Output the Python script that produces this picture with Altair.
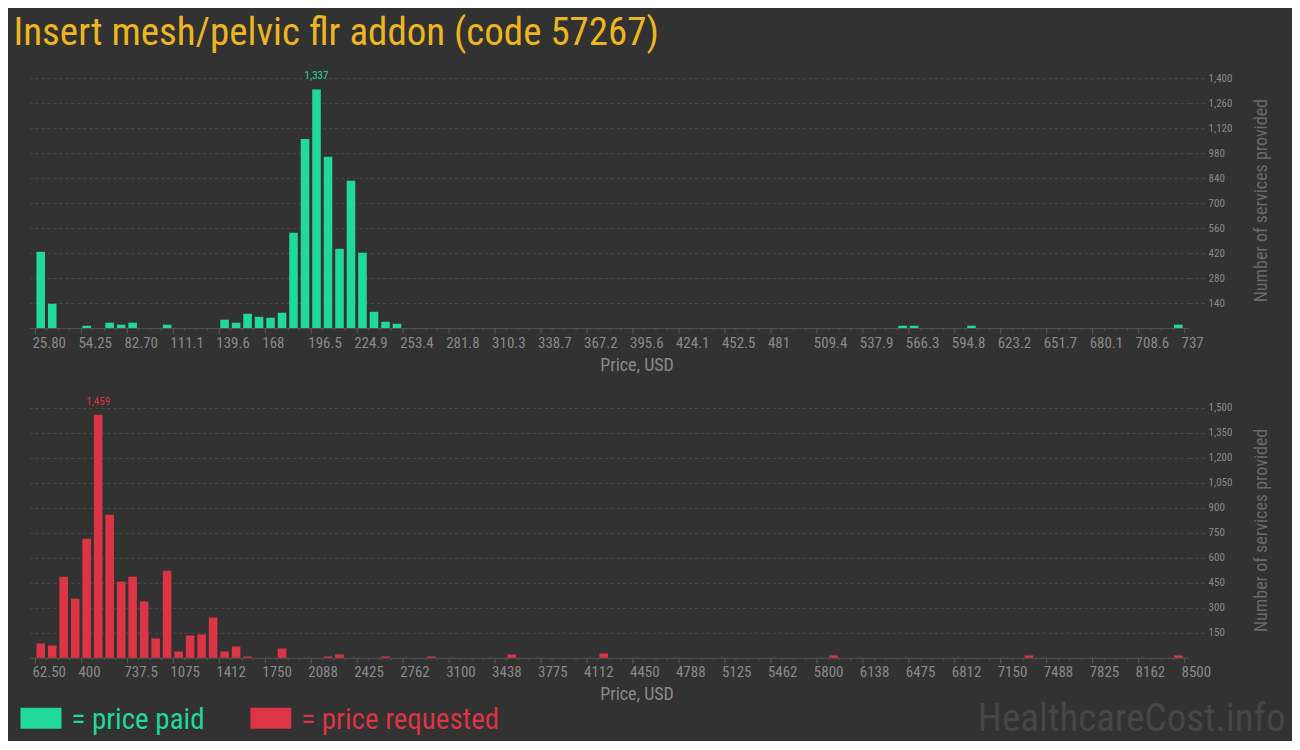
import altair as alt
import pandas as pd

# ---------------- data ----------------
paid_bins = [0, 1, 4, 6, 7, 8, 11, 16, 17, 18, 19, 20, 21, 22, 23, 24, 25, 26, 27, 28, 29, 30, 31, 75, 76, 81, 99]
paid_counts = [427, 136, 13, 30, 19, 30, 19, 47, 30, 80, 63, 58, 86, 534, 1060, 1337, 960, 444, 825, 422, 91, 35, 24, 13, 13, 13, 19]

req_bins = [0, 1, 2, 3, 4, 5, 6, 7, 8, 9, 10, 11, 12, 13, 14, 15, 16, 17, 18, 21, 25, 26, 30, 34, 41, 49, 69, 86, 99]
req_counts = [86, 74, 487, 355, 715, 1459, 859, 457, 487, 338, 116, 523, 38, 134, 140, 242, 38, 68, 8, 56, 8, 20, 8, 8, 20, 26, 14, 14, 14]

paid_tick_labels = ["25.80", "54.25", "82.70", "111.1", "139.6", "168", "196.5", "224.9", "253.4",
                    "281.8", "310.3", "338.7", "367.2", "395.6", "424.1", "452.5", "481", "509.4",
                    "537.9", "566.3", "594.8", "623.2", "651.7", "680.1", "708.6", "737"]
req_tick_labels = ["62.50", "400", "737.5", "1075", "1412", "1750", "2088", "2425", "2762", "3100",
                   "3438", "3775", "4112", "4450", "4788", "5125", "5462", "5800", "6138", "6475",
                   "6812", "7150", "7488", "7825", "8162", "8500"]

paid_y_ticks = [140, 280, 420, 560, 700, 840, 980, 1120, 1260, 1400]
req_y_ticks = [150, 300, 450, 600, 750, 900, 1050, 1200, 1350, 1500]

legend_labels = ["= price paid", "= price requested"]
title_text = "Insert mesh/pelvic flr addon (code 57267)"
watermark = "HealthcareCost.info"

# ---------------- style ----------------
BG = "#323232"
GREEN = "#20d99b"
RED = "#dc3545"
GOLD = "#ecb621"
GRID = "#4c4c4c"
LABEL = "#8a8a8a"
FONT = "Roboto Condensed, Liberation Sans Narrow, DejaVu Sans Condensed, Roboto, sans-serif"
N_BINS = 100
W = 1160
H = 250


def panel(bins, counts, tick_labels, y_ticks, ymax, color, extra=None):
    df = pd.DataFrame({"bin": bins, "count": counts})
    df["center"] = df["bin"] + 0.5
    arr = "[" + ",".join("'" + s + "'" for s in tick_labels) + "]"
    x_values = list(range(0, N_BINS + 1))
    x_axis = alt.Axis(
        values=x_values, tickCount=len(x_values),
        labelExpr="datum.value % 4 == 0 ? " + arr + "[datum.value / 4] : ''",
        labelOverlap=False, labelAlign="left", labelOffset=-3,
        labelFont=FONT, labelFontSize=15, labelColor=LABEL, labelPadding=2,
        tickSize={"condition": {"test": "datum.value % 4 == 0", "value": 5}, "value": 2},
        tickColor="#5a5a5a", domainColor="#555555", grid=False,
        title="Price, USD", titleFont=FONT, titleFontSize=18, titleFontWeight="normal",
        titleColor=LABEL, titlePadding=6, titleX=607,
    )
    y_axis = alt.Axis(
        orient="right", values=y_ticks, tickCount=len(y_ticks), format=",.0f", labelOverlap=False,
        grid=True, gridColor=GRID, gridDash=[3, 3],
        tickColor=GRID, tickDash=[3, 3], tickSize=15,
        domain=False, labelFont=FONT, labelFontSize=11, labelColor=LABEL, labelPadding=4,
        title="Number of services provided", titleFont=FONT, titleFontSize=18,
        titleFontWeight="normal", titleColor="#6a6a6a", titleAngle=270, titleBaseline="top",
        titlePadding=21, titleY=122,
    )
    base = alt.Chart(df)
    bars = base.mark_bar(width=8.6, color=color).encode(
        x=alt.X("center:Q", scale=alt.Scale(domain=[0, N_BINS], nice=False, zero=False), axis=x_axis),
        y=alt.Y("count:Q", scale=alt.Scale(domain=[0, ymax], nice=False), axis=y_axis),
    )
    peak = base.transform_joinaggregate(mx="max(count)").transform_filter(
        "datum.count == datum.mx"
    ).mark_text(dy=-8, baseline="bottom", font=FONT, fontSize=11, color=color).encode(
        x="center:Q", y="count:Q", text=alt.Text("count:Q", format=",")
    )
    layers = [bars, peak]
    if extra:
        layers += extra
    return alt.layer(*layers).properties(width=W, height=H)


one = pd.DataFrame({"k": [0]})
title_mark = alt.Chart(one).mark_text(align="left", baseline="alphabetic", font=FONT,
                                      fontSize=39, color=GOLD).encode(
    x=alt.value(-16.5), y=alt.value(-33), text=alt.value(title_text))
leg_green = alt.Chart(one).mark_rect(color=GREEN).encode(
    x=alt.value(-9.5), x2=alt.value(31.5), y=alt.value(300), y2=alt.value(321))
leg_green_t = alt.Chart(one).mark_text(align="left", baseline="alphabetic", font=FONT,
                                       fontSize=29, color=GREEN).encode(
    x=alt.value(41.5), y=alt.value(321), text=alt.value(legend_labels[0]))
leg_red = alt.Chart(one).mark_rect(color=RED).encode(
    x=alt.value(220.5), x2=alt.value(261.5), y=alt.value(300), y2=alt.value(321))
leg_red_t = alt.Chart(one).mark_text(align="left", baseline="alphabetic", font=FONT,
                                     fontSize=29, color=RED).encode(
    x=alt.value(271.5), y=alt.value(321), text=alt.value(legend_labels[1]))
wm = alt.Chart(one).mark_text(align="right", baseline="alphabetic", font=FONT,
                              fontSize=39, color="#474747").encode(
    x=alt.value(1256.5), y=alt.value(323), text=alt.value(watermark))

top = panel(paid_bins, paid_counts, paid_tick_labels, paid_y_ticks, 1400, GREEN,
            extra=[title_mark])
bottom = panel(req_bins, req_counts, req_tick_labels, req_y_ticks, 1500, RED,
               extra=[leg_green, leg_green_t, leg_red, leg_red_t, wm])

chart = alt.vconcat(top, bottom, spacing=80, bounds="flush").resolve_scale(
    x="independent", y="independent"
).properties(
    background=BG,
    padding={"left": 5, "top": 6, "right": 6, "bottom": 2},
).configure_view(stroke=None)

chart.save("out.html", embed_options={"renderer": "svg", "actions": False})
